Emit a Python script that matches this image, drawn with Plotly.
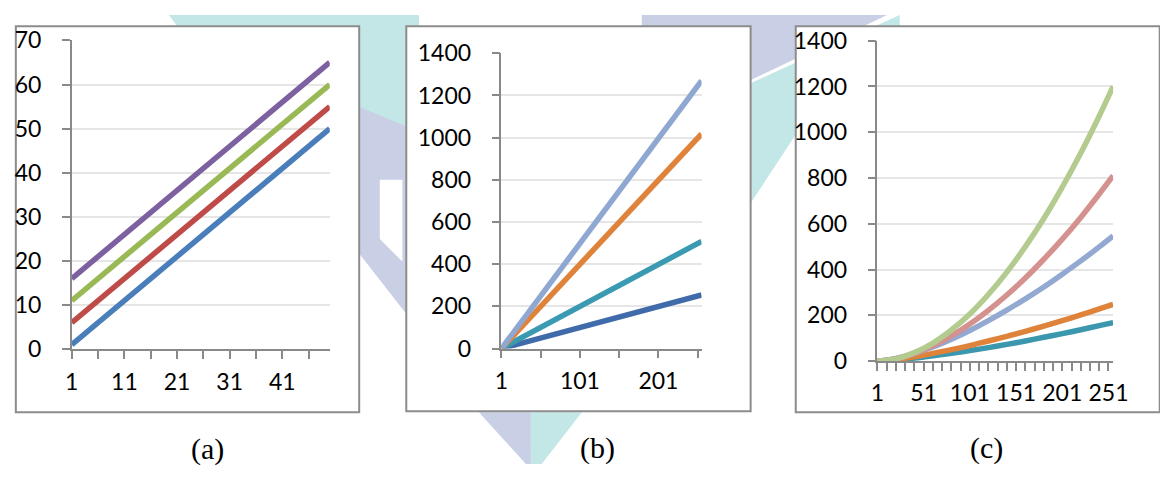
import plotly.graph_objects as go

W, H = 1160, 477

# ---------------- data ----------------
# panel (a)
a_x = [1, 50]
a_blue = [1, 50]
a_red = [6, 55]
a_green = [11, 60]
a_purple = [16, 65]

# panel (b)
b_x = [1, 256]
b_dark = [0, 254]
b_teal = [0, 508]
b_orange = [0, 1018]
b_light = [0, 1270]

# panel (c)
c_x = [1, 21, 41, 61, 81, 101, 121, 141, 161, 181, 201, 221, 241, 256]
c_teal = [0, 5, 13, 23, 34, 46, 59, 73, 88, 104, 120, 137, 155, 168]
c_orange = [0, 7, 19, 34, 50, 68, 88, 108, 130, 153, 177, 202, 228, 248]
c_blue = [0, 12, 34, 62, 96, 134, 177, 223, 272, 324, 380, 438, 499, 547]
c_pink = [0, 10, 34, 67, 110, 162, 222, 289, 363, 445, 533, 628, 730, 810]
c_green = [0, 10, 37, 79, 136, 206, 291, 389, 500, 623, 760, 909, 1071, 1200]

captions = ["(a)", "(b)", "(c)"]


def px(p):
    return p / W


def py(p):
    return 1 - p / H


fig = go.Figure()

LW = 5.5
# (a)
for ys, col in [(a_blue, "#4A7EBB"), (a_red, "#BE4B48"),
                (a_green, "#98B954"), (a_purple, "#7D60A0")]:
    fig.add_trace(go.Scatter(x=a_x, y=ys, mode="lines", xaxis="x", yaxis="y",
                             line=dict(color=col, width=LW), hoverinfo="skip"))
# (b)
for ys, col in [(b_dark, "#3F6BAA"), (b_teal, "#3A9AB2"),
                (b_orange, "#E0833A"), (b_light, "#8FA8D2")]:
    fig.add_trace(go.Scatter(x=b_x, y=ys, mode="lines", xaxis="x2", yaxis="y2",
                             line=dict(color=col, width=LW), hoverinfo="skip"))
# (c)
for ys, col in [(c_teal, "#3A97AE"), (c_orange, "#E0833A"), (c_blue, "#93A9D2"),
                (c_pink, "#D4918E"), (c_green, "#B3CB8E")]:
    fig.add_trace(go.Scatter(x=c_x, y=ys, mode="lines", xaxis="x3", yaxis="y3",
                             line=dict(color=col, width=LW, shape="spline", smoothing=0.8),
                             hoverinfo="skip"))

AXC = "#898989"
GRID = "#e6e6e6"
TF = dict(family="Lato", size=23, color="#000000")


def xax(dom, rng, dtick, mdtick):
    return dict(domain=dom, range=rng, showgrid=False, zeroline=False,
                showline=True, linecolor=AXC, linewidth=1.5,
                ticks="outside", ticklen=8, tickcolor=AXC, tickwidth=1.5,
                tickmode="linear", tick0=1, dtick=dtick, tickfont=TF,
                ticklabelstandoff=3,
                minor=dict(ticks="outside", ticklen=8, tickcolor=AXC, tickwidth=1.5,
                           tick0=1, dtick=mdtick, showgrid=False))


def yax(dom, rng, dtick, anchor):
    return dict(domain=dom, range=rng, anchor=anchor, showgrid=True, gridcolor=GRID,
                gridwidth=1.5, zeroline=False, showline=True, linecolor=AXC,
                linewidth=1.5, ticks="outside", ticklen=8, tickcolor=AXC, tickwidth=1.5,
                tickmode="linear", tick0=0, dtick=dtick, tickfont=TF,
                ticklabelstandoff=16)


xa = xax([px(66), px(329)], [1, 50], 10, 5)
xa.update(anchor="y")
xb = xax([px(504), px(708)], [1, 256], 100, 50)
xb.update(anchor="y2")
xc = xax([px(887.3), px(1127.5)], [1, 256], 50, 10)
xc.update(anchor="y3")

fig.update_layout(
    width=W, height=H, margin=dict(l=0, r=0, t=0, b=0),
    paper_bgcolor="white", plot_bgcolor="rgba(0,0,0,0)", showlegend=False,
    xaxis=xa, xaxis2=xb, xaxis3=xc,
    yaxis=yax([py(355), py(27)], [0, 70], 10, "x"),
    yaxis2=yax([py(354.3), py(40.7)], [0, 1400], 200, "x2"),
    yaxis3=yax([py(367.7), py(27.3)], [0, 1400], 200, "x3"),
)

LAV = "#C9D0E5"
TEAL = "#C3E7E6"


def poly(pts, color):
    path = "M " + " L ".join(f"{px(x):.5f},{py(y):.5f}" for x, y in pts) + " Z"
    return dict(type="path", xref="paper", yref="paper", path=path,
                fillcolor=color, line=dict(width=0), layer="below")


shapes = [
    # watermark pieces (mostly hidden behind the panels)
    poly([(340, 88), (420, 118), (420, 335), (340, 228)], LAV),
    poly([(165, 0), (420, 0), (420, 124), (300, 72), (175, 14)], TEAL),
    poly([(380, 175), (403, 175), (403, 262), (380, 238)], "#FFFFFF"),
    poly([(700, 100), (910, 0), (910, 12), (804, 127), (758, 200), (700, 230)], TEAL),
    poly([(647, 0), (897, 0), (700, 98), (647, 98)], LAV),
    poly([(481, 422), (534, 422), (534, 477), (529, 477)], LAV),
    poly([(534, 422), (586, 422), (545, 477), (534, 477)], TEAL),
]
# panel frames
for x0, y0, x1, y1 in [(9, 12, 359, 422), (407, 12, 758, 421), (804, 12, 1175, 422)]:
    shapes.append(dict(type="rect", xref="paper", yref="paper",
                       x0=px(x0), x1=px(x1), y0=py(y1), y1=py(y0),
                       fillcolor="white", line=dict(color="#8C8C8C", width=2),
                       layer="below"))
fig.update_layout(shapes=shapes)

for txt, cx, cy in zip(captions, [204, 602, 998], [461, 460, 460]):
    fig.add_annotation(text=txt, x=px(cx), y=py(cy), xref="paper", yref="paper",
                       xanchor="center", yanchor="middle", showarrow=False,
                       font=dict(family="Liberation Serif", size=30, color="#000000"))

fig.write_html(
    "out.html",
    config={"displayModeBar": False},
    post_script=("document.documentElement.style.margin='0';"
                 "document.body.style.margin='0';"
                 "document.body.style.padding='0';"
                 "document.body.style.overflow='hidden';"),
)
